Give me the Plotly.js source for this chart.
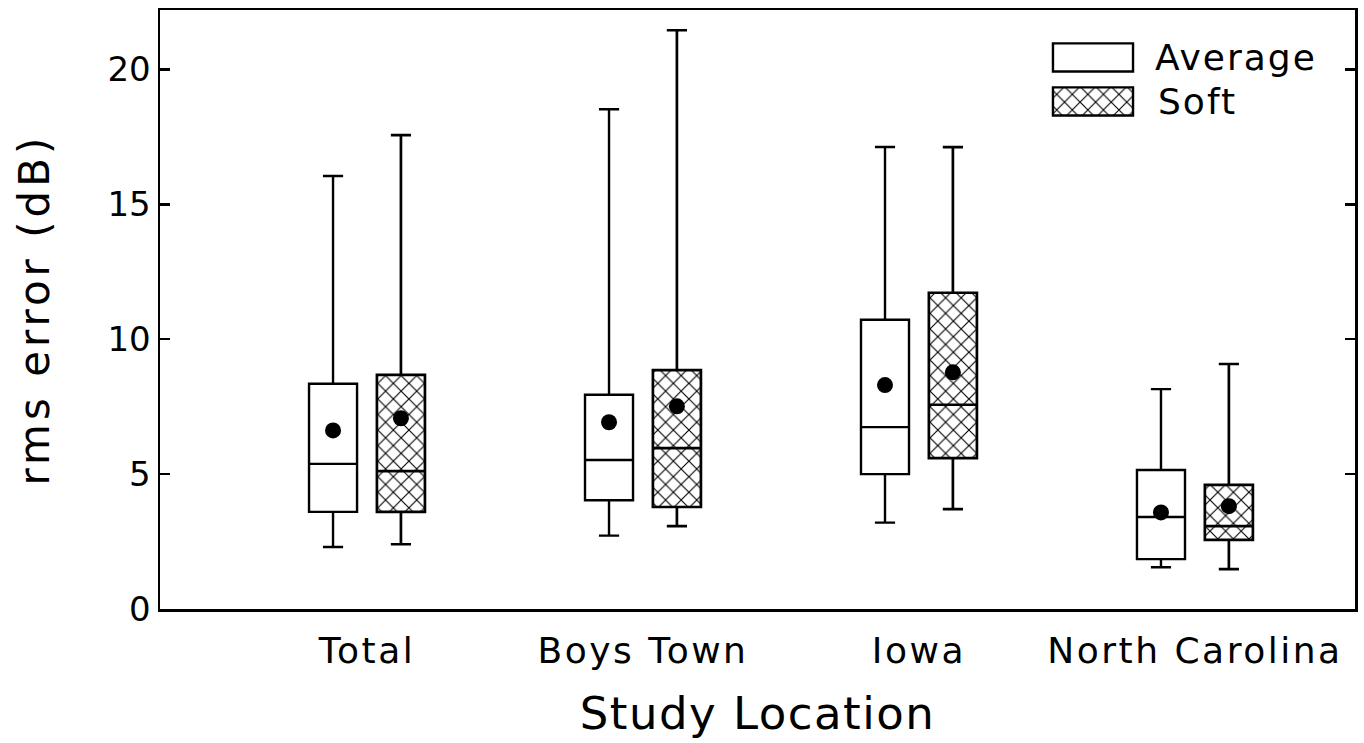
<!DOCTYPE html>
<html>
<head>
<meta charset="utf-8">
<script src="https://cdn.plot.ly/plotly-3.0.1.min.js"></script>
<style>
  html, body { margin: 0; padding: 0; background: #fff; }
  #chart { width: 1364px; height: 743px; }
  #chart .xtick text { letter-spacing: 2.5px; }
  #chart .xtitle { letter-spacing: 1.5px; }
  #chart .ytitle { letter-spacing: 4px; }
  #chart .annotation-text { letter-spacing: 2px; }
</style>
</head>
<body>
<div id="chart"></div>
<script>
// ---- data ----
var locations = ['Total', 'Boys Town', 'Iowa', 'North Carolina'];
var seriesNames = ['Average', 'Soft'];

var avgLow    = [2.30, 2.72, 3.20, 1.55];
var avgQ1     = [3.60, 4.03, 5.00, 1.85];
var avgMedian = [5.38, 5.52, 6.74, 3.41];
var avgQ3     = [8.35, 7.94, 10.72, 5.15];
var avgHigh   = [16.05, 18.52, 17.12, 8.15];
var avgMean   = [6.62, 6.92, 8.30, 3.58];

var softLow    = [2.40, 3.07, 3.70, 1.48];
var softQ1     = [3.60, 3.78, 5.59, 2.56];
var softMedian = [5.11, 5.96, 7.57, 3.07];
var softQ3     = [8.68, 8.85, 11.72, 4.60];
var softHigh   = [17.56, 21.45, 17.12, 9.08];
var softMean   = [7.07, 7.51, 8.77, 3.81];

// ---- layout helpers ----
var groupIdx = locations.map(function (_, i) { return i; });
var OFFSET = 0.123;   // half distance between paired boxes (category units)
var BOXW = 0.174;     // box width (category units)
var avgPos = groupIdx.map(function (i) { return i - OFFSET; });
var softPos = groupIdx.map(function (i) { return i + OFFSET; });
var FONT = 'DejaVu Sans, sans-serif';
var HATCH = { shape: 'x', size: 11, solidity: 0.19, fgcolor: '#000', bgcolor: '#fff' };

var traces = [
  // hatched fill behind the Soft boxes
  {
    type: 'bar', x: softPos, base: softQ1,
    y: softQ3.map(function (v, i) { return v - softQ1[i]; }),
    width: BOXW,
    marker: { color: '#ffffff', line: { width: 0 }, pattern: HATCH },
    showlegend: false, hoverinfo: 'skip'
  },
  {
    type: 'box', name: seriesNames[0], x: avgPos,
    q1: avgQ1, median: avgMedian, q3: avgQ3, lowerfence: avgLow, upperfence: avgHigh,
    width: BOXW, whiskerwidth: 0.42, boxpoints: false,
    line: { color: '#000', width: 2.4 }, fillcolor: '#ffffff',
    showlegend: false, hoverinfo: 'skip'
  },
  {
    type: 'box', name: seriesNames[1], x: softPos,
    q1: softQ1, median: softMedian, q3: softQ3, lowerfence: softLow, upperfence: softHigh,
    width: BOXW, whiskerwidth: 0.42, boxpoints: false,
    line: { color: '#000', width: 2.7 }, fillcolor: 'rgba(0,0,0,0)',
    showlegend: false, hoverinfo: 'skip'
  },
  {
    type: 'scatter', mode: 'markers', x: avgPos.concat(softPos), y: avgMean.concat(softMean),
    marker: { color: '#000', size: 16 }, showlegend: false, hoverinfo: 'skip'
  },
  // custom legend swatches: fill (plain / hatched) ...
  {
    type: 'bar', orientation: 'h', xaxis: 'x2', yaxis: 'y2',
    y: [1, 0], x: [1, 1], width: 0.64,
    marker: { color: '#ffffff', line: { width: 0 },
              pattern: { shape: ['', 'x'], size: 11, solidity: 0.19, fgcolor: '#000', bgcolor: '#fff' } },
    showlegend: false, hoverinfo: 'skip'
  },
  // ... and their outlines
  {
    type: 'bar', orientation: 'h', xaxis: 'x2', yaxis: 'y2',
    y: [1, 0], x: [1, 1], width: 0.64,
    marker: { color: 'rgba(0,0,0,0)', line: { color: '#000', width: 2.4 } },
    showlegend: false, hoverinfo: 'skip'
  }
];

var layout = {
  width: 1364, height: 743,
  margin: { l: 160, r: 9, t: 10, b: 134 },
  paper_bgcolor: '#fff', plot_bgcolor: '#fff',
  font: { family: FONT, color: '#000' },
  showlegend: false,
  barmode: 'overlay',
  xaxis: {
    range: [-0.75, 3.58], tickmode: 'array', tickvals: groupIdx, ticktext: locations,
    showline: true, linecolor: '#000', linewidth: 2.5, mirror: true,
    ticks: '', showgrid: false, zeroline: false, ticklabelstandoff: 8,
    tickfont: { family: FONT, size: 36 },
    title: { text: 'Study Location', font: { family: FONT, size: 45 }, standoff: 28 }
  },
  yaxis: {
    range: [0, 22.2], tickmode: 'linear', tick0: 0, dtick: 5,
    showline: true, linecolor: '#000', linewidth: 2.5, mirror: 'ticks',
    ticks: 'inside', ticklen: 10, tickwidth: 2.5, tickcolor: '#000',
    showgrid: false, zeroline: false,
    tickfont: { family: FONT, size: 34 },
    title: { text: 'rms error (dB)', font: { family: FONT, size: 42 }, standoff: 45 }
  },
  xaxis2: { domain: [0.7439, 0.8176], range: [-0.05, 1.05], anchor: 'y2', visible: false, fixedrange: true },
  yaxis2: { domain: [0.8179, 0.9501], range: [-0.4, 1.4], anchor: 'x2', visible: false, fixedrange: true },
  annotations: [
    { xref: 'paper', yref: 'paper', x: 0.8368, y: 0.9215, xanchor: 'left', yanchor: 'middle', showarrow: false,
      text: seriesNames[0], font: { family: FONT, size: 36 } },
    { xref: 'paper', yref: 'paper', x: 0.8368, y: 0.848, xanchor: 'left', yanchor: 'middle', showarrow: false,
      text: seriesNames[1], font: { family: FONT, size: 36 } }
  ]
};

Plotly.newPlot('chart', traces, layout, { staticPlot: true, displayModeBar: false });
</script>
</body>
</html>
